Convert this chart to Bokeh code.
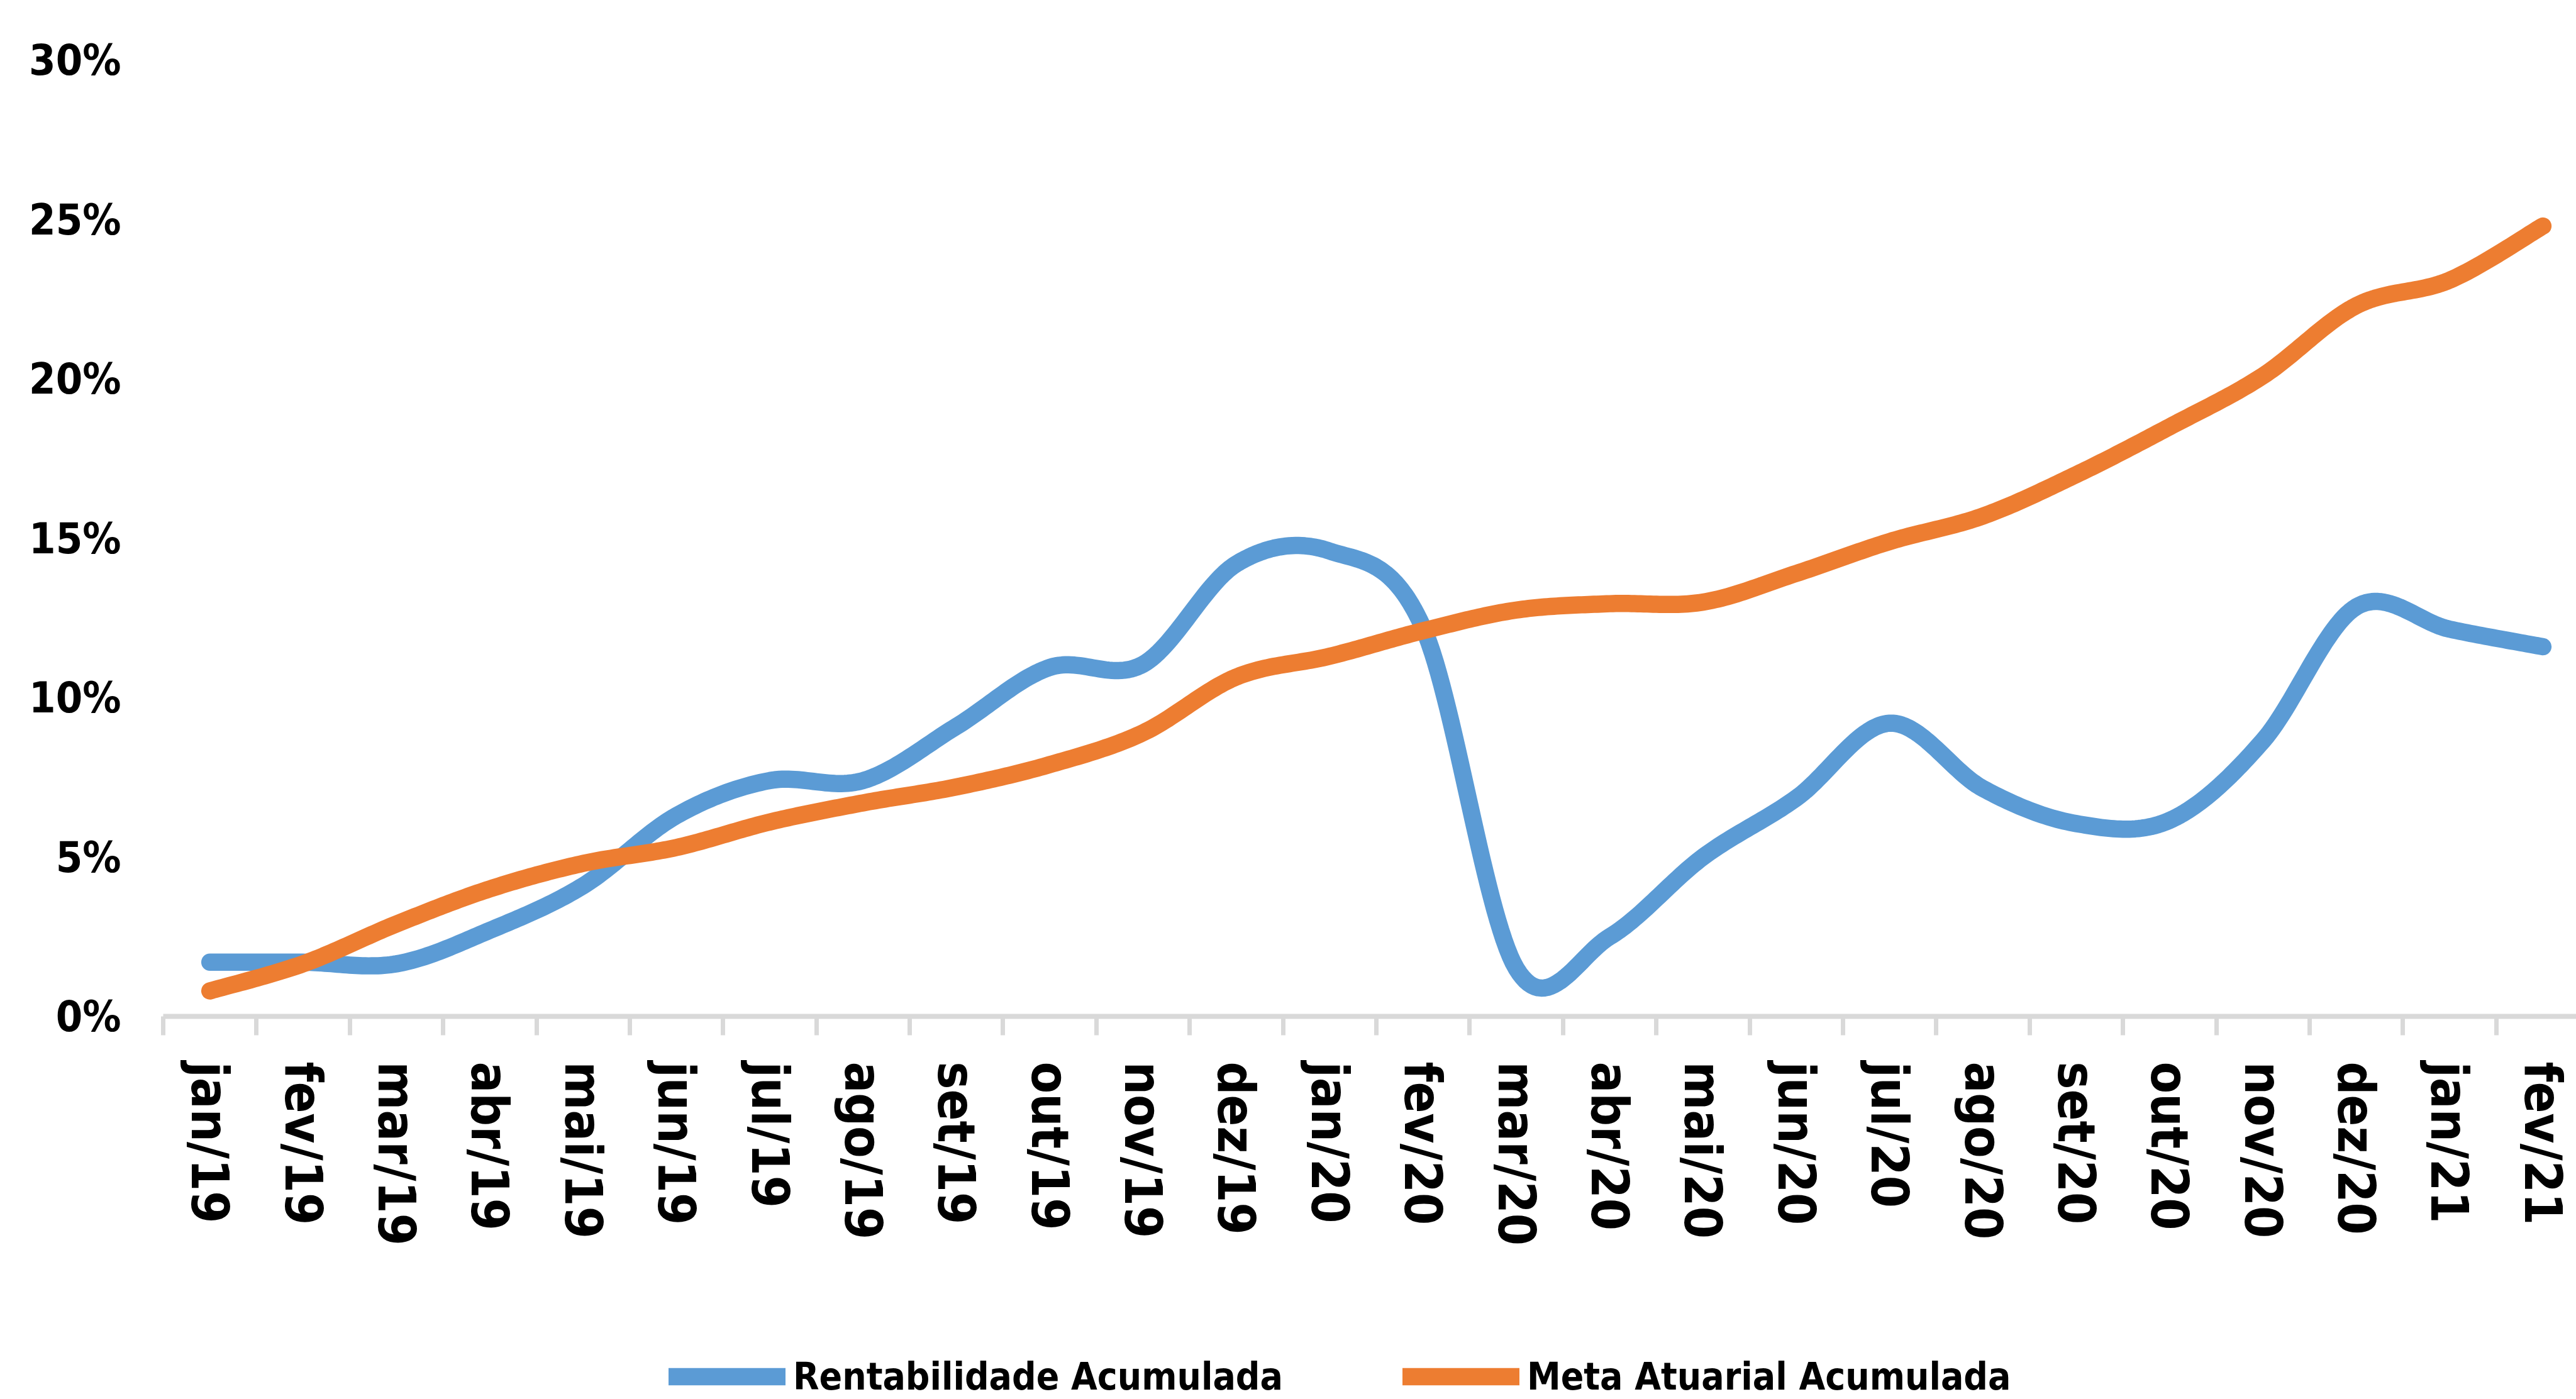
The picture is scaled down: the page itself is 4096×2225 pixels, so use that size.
import numpy as np
from bokeh.plotting import figure
from bokeh.layouts import column
from bokeh.models import FixedTicker, Range1d, Legend, LegendItem
from bokeh.embed import file_html
from bokeh.resources import INLINE

# ---------------- data ----------------
months = ["jan/19", "fev/19", "mar/19", "abr/19", "mai/19", "jun/19", "jul/19",
          "ago/19", "set/19", "out/19", "nov/19", "dez/19", "jan/20", "fev/20",
          "mar/20", "abr/20", "mai/20", "jun/20", "jul/20", "ago/20", "set/20",
          "out/20", "nov/20", "dez/20", "jan/21", "fev/21"]
rentabilidade = [1.7, 1.7, 1.65, 2.7, 4.1, 6.3, 7.4, 7.4, 9.1, 10.95, 11.05, 14.2,
                 14.6, 12.2, 1.5, 2.5, 5.0, 6.85, 9.2, 7.15, 6.05, 6.15, 8.65,
                 12.85, 12.15, 11.6]
meta = [0.8, 1.65, 2.9, 4.0, 4.8, 5.3, 6.1, 6.7, 7.2, 7.9, 8.9, 10.65, 11.3, 12.1,
        12.75, 12.95, 13.0, 13.9, 14.9, 15.7, 17.0, 18.5, 20.1, 22.3, 23.1, 24.8]
y_ticks = [0, 5, 10, 15, 20, 25, 30]
series_names = ["Rentabilidade Acumulada", "Meta Atuarial Acumulada"]

BLUE = "#5B9BD5"
ORANGE = "#ED7D31"
FONT = "DejaVu Sans Condensed, DejaVu Sans, sans-serif"
LW = 27.5


def smooth(ys, n=30):
    """Excel-style smoothed line (cubic Bezier through every point)."""
    pts = [(float(i), float(v)) for i, v in enumerate(ys)]
    m = len(pts)
    ox, oy = [], []
    for i in range(m - 1):
        p0 = pts[i - 1] if i > 0 else pts[i]
        p1 = pts[i]
        p2 = pts[i + 1]
        p3 = pts[i + 2] if i + 2 < m else pts[i + 1]
        c1 = (p1[0] + (p2[0] - p0[0]) / 6.0, p1[1] + (p2[1] - p0[1]) / 6.0)
        c2 = (p2[0] - (p3[0] - p1[0]) / 6.0, p2[1] - (p3[1] - p1[1]) / 6.0)
        ts = np.linspace(0, 1, n, endpoint=(i == m - 2))
        for t in ts:
            a = (1 - t) ** 3
            b = 3 * (1 - t) ** 2 * t
            c = 3 * (1 - t) * t ** 2
            d = t ** 3
            ox.append(a * p1[0] + b * c1[0] + c * c2[0] + d * p2[0])
            oy.append(a * p1[1] + b * c1[1] + c * c2[1] + d * p2[1])
    return ox, oy


W = 4096
H_MAIN = 2030
H_LEG = 195
LEFT = 259
TOP = 28
FRAME_BOTTOM = 1616

p = figure(width=W, height=H_MAIN, output_backend="svg", toolbar_location=None,
           x_range=Range1d(-0.5, 25.358), y_range=Range1d(0, 31.33),
           min_border_left=LEFT, min_border_right=0, min_border_top=TOP,
           min_border_bottom=H_MAIN - FRAME_BOTTOM)
p.outline_line_color = None
p.xgrid.visible = False
p.ygrid.visible = False
p.background_fill_color = "white"
p.border_fill_color = "white"

bx, by = smooth(rentabilidade)
ox_, oy_ = smooth(meta)
p.line(bx, by, line_color=BLUE, line_width=LW, line_cap="round", line_join="round")
p.line(ox_, oy_, line_color=ORANGE, line_width=LW, line_cap="round", line_join="round")

# x axis
xa = p.xaxis[0]
xa.ticker = FixedTicker(ticks=list(range(len(months))),
                        minor_ticks=[i - 0.5 for i in range(len(months) + 1)])
xa.major_label_overrides = {i: m for i, m in enumerate(months)}
xa.major_label_orientation = "vertical"
xa.major_tick_line_color = None
xa.major_tick_out = 0
xa.major_tick_in = 0
xa.minor_tick_line_color = "#D9D9D9"
xa.minor_tick_line_width = 7
xa.minor_tick_out = 30
xa.minor_tick_in = 0
xa.axis_line_color = "#D9D9D9"
xa.axis_line_width = 8
xa.major_label_standoff = 42
xa.major_label_text_font = FONT
xa.major_label_text_font_style = "bold"
xa.major_label_text_font_size = "82px"
xa.major_label_text_color = "black"

# y axis
ya = p.yaxis[0]
ya.ticker = FixedTicker(ticks=y_ticks)
ya.major_label_overrides = {v: f"{v}%" for v in y_ticks}
ya.axis_line_color = None
ya.major_tick_line_color = None
ya.minor_tick_line_color = None
ya.major_tick_out = 0
ya.major_tick_in = 0
ya.major_label_standoff = 67
ya.major_label_text_font = FONT
ya.major_label_text_font_style = "bold"
ya.major_label_text_font_size = "68px"
ya.major_label_text_color = "black"

# ---------------- legend strip below the chart ----------------
q = figure(width=W, height=H_LEG, output_backend="svg", toolbar_location=None,
           x_axis_location=None, y_axis_location=None,
           min_border_left=0, min_border_right=0, min_border_top=0,
           min_border_bottom=0)
q.outline_line_color = None
q.xgrid.visible = False
q.ygrid.visible = False
q.background_fill_color = "white"
q.border_fill_color = "white"
lr1 = q.line(bx, by, line_color=BLUE, line_width=LW, line_cap="round", visible=False)
lr2 = q.line(ox_, oy_, line_color=ORANGE, line_width=LW, line_cap="round", visible=False)

legend = Legend(items=[LegendItem(label=series_names[0], renderers=[lr1]),
                       LegendItem(label=series_names[1], renderers=[lr2])],
                orientation="horizontal", location=(804, 1),
                glyph_width=186, glyph_height=50, label_height=50,
                label_standoff=12, spacing=190, padding=0, margin=0,
                click_policy="none",
                border_line_color=None, background_fill_alpha=0,
                label_text_font=FONT, label_text_font_style="bold",
                label_text_font_size="60px", label_text_color="black")
q.add_layout(legend, "center")

layout = column(p, q, spacing=0)
open("out.html", "w").write(file_html(layout, INLINE))
